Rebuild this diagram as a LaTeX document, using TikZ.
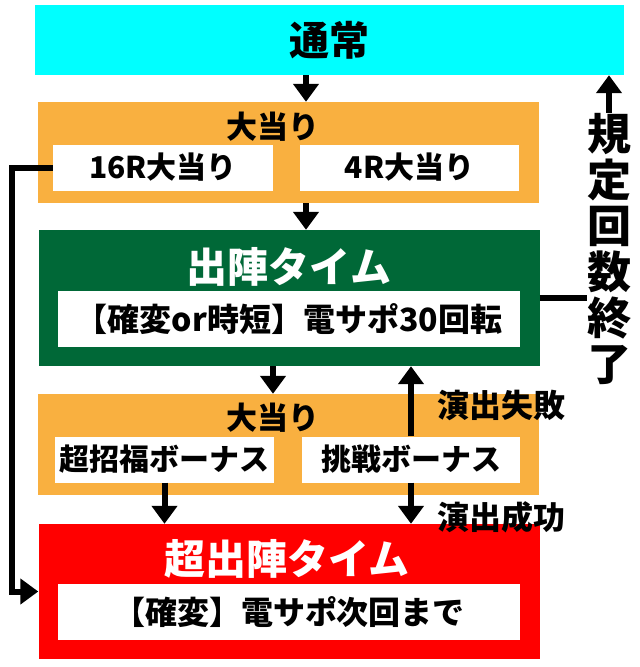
\documentclass[tikz,border=0pt]{standalone}
\usepackage{fontspec}
\setmainfont{Noto Sans CJK JP}
\usetikzlibrary{arrows.meta}

\definecolor{tsujocyan}{RGB}{0,255,255}
\definecolor{ataribg}{RGB}{249,176,64}
\definecolor{jingreen}{RGB}{0,104,55}
\definecolor{superred}{RGB}{255,0,0}

\newcommand{\jfs}[1]{\fontsize{#1}{#1}\selectfont\bfseries}

\tikzset{
    panel/.style={fill=#1,inner sep=0pt,minimum width=501pt},
    wbox/.style={fill=white,inner sep=0pt,minimum height=46pt,font=\jfs{30}},
    wide/.style={fill=white,inner sep=0pt,minimum width=462pt,minimum height=56pt,font=\jfs{32}},
    arr/.style={line width=6pt,-{Triangle[width=25pt,length=18pt]}},
}

\begin{document}
\begin{tikzpicture}[x=1pt,y=-1pt]
        \useasboundingbox (0,0) rectangle (640,667);
        \node[fill=tsujocyan,inner sep=0pt,minimum width=589pt,minimum height=70pt] (tsujo) at (329.5,40) {\jfs{40}通常};

        \node[panel=ataribg,minimum height=101pt] (atari1) at (288.5,152.5) {};
        \node (atari1lbl) at (273,127) {\jfs{31}大当り};
        \node[wbox,minimum width=220pt] (r16) at (163,167.5) {16R大当り};
        \node[wbox,minimum width=219pt] (r4) at (409.5,167.5) {4R大当り};

        \node[panel=jingreen,minimum height=136pt] (jin) at (289,298) {};
        \node[text=white] (jinlbl) at (289,267) {\jfs{41}出陣タイム};
        \node[wide] (jinsub) at (289,319) {【確変or時短】電サポ30回転};

        \node[panel=ataribg,minimum height=101pt] (atari2) at (288.5,444.5) {};
        \node (atari2lbl) at (273,418) {\jfs{31}大当り};
        \node[wbox,minimum width=219pt] (chofuku) at (164.5,459.5) {超招福ボーナス};
        \node[wbox,minimum width=218pt] (chosen) at (411,459.5) {挑戦ボーナス};

        \node[panel=superred,minimum height=135pt] (chojin) at (289,591.5) {};
        \node[text=white] (chojinlbl) at (287,559) {\jfs{41}超出陣タイム};
        \node[wide] (chojinsub) at (289,612) {【確変】電サポ次回まで};

        \node (fail) at (501,405) {\jfs{32}演出失敗};
        \node (succ) at (501,517) {\jfs{32}演出成功};
        \node[inner sep=0pt,align=center,font=\fontsize{44}{46}\selectfont\bfseries] (kitei) at (609,248.5) {規\\定\\回\\数\\終\\了};

        \coordinate (mid) at (306,0);
        \coordinate (lx) at (12,0);
        \draw[arr] (tsujo.south -| mid) -- (atari1.north -| mid);
        \draw[arr] (atari1.south -| mid) -- (jin.north -| mid);
        \draw[arr] (jin.south -| atari2lbl) -- (atari2.north -| atari2lbl);
        \draw[arr] (chofuku.south) -- (chofuku.south |- chojin.north);
        \draw[arr] (chosen.north) -- (chosen.north |- jin.south);
        \draw[arr] (chosen.south) -- (chosen.south |- chojin.north);
        \draw[arr] (r16.west) -- (r16.west -| lx) |- (chojin.west);
        \draw[line width=6pt] (jin.east) -- (jin.east -| kitei.west);
        \draw[arr] (kitei.north) -- (kitei.north |- tsujo.south);
    \end{tikzpicture}
\end{document}
